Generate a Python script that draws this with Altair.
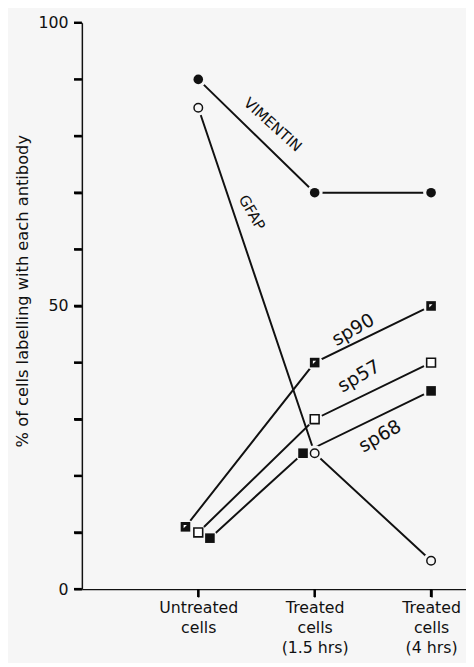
import altair as alt
import pandas as pd

# ---- data ----
categories = ["Untreated|cells", "Treated|cells|(1.5 hrs)", "Treated|cells|(4 hrs)"]
cat_pos = [1, 2, 3]
y_ticks = [0, 10, 20, 30, 40, 50, 60, 70, 80, 90, 100]

series_names = ["VIMENTIN", "GFAP", "sp90", "sp57", "sp68"]
vimentin = [90, 70, 70]
gfap = [85, 24, 5]
sp90 = [11, 40, 50]
sp57 = [10, 30, 40]
sp68 = [9, 24, 35]
# small horizontal displacement of the symbols in the original (category units)
jitter = {
    "VIMENTIN": [0.0, 0.0, 0.0],
    "GFAP": [0.0, 0.0, 0.0],
    "sp90": [-0.11, 0.0, 0.0],
    "sp57": [0.0, 0.0, 0.0],
    "sp68": [0.10, -0.10, 0.0],
}
values = {"VIMENTIN": vimentin, "GFAP": gfap, "sp90": sp90, "sp57": sp57, "sp68": sp68}

# annotation labels (data coordinates) and rotation
ann_text = ["VIMENTIN", "GFAP", "sp90", "sp57", "sp68"]
ann_x = [1.64, 1.46, 2.33, 2.38, 2.56]
ann_y = [82.0, 66.5, 45.8, 37.6, 27.0]
ann_angle = [42, 60, 330, 330, 330]
ann_size = [15, 15, 19, 19, 19]

rows = []
for s in series_names:
    for i, c in enumerate(cat_pos):
        rows.append({"series": s, "x": c + jitter[s][i], "y": values[s][i]})
df = pd.DataFrame(rows)
ann = pd.DataFrame({"t": ann_text, "x": ann_x, "y": ann_y, "a": ann_angle, "fs": ann_size})
xt = pd.DataFrame({"x": cat_pos})
yt = pd.DataFrame({"y": y_ticks})

BG = "#f6f6f6"
INK = "#111111"
FONT = "DejaVu Sans"
TICK = 8
H = 575

label_parts = [c.split("|") for c in categories]
label_expr = " : ".join(
    f"datum.value == {p} ? {parts!r}" for p, parts in zip(cat_pos, label_parts)
) + " : ''"

xscale = alt.Scale(domain=[0, 3.3], nice=False, zero=False)
yscale = alt.Scale(domain=[0, 100], nice=False)

xenc = alt.X(
    "x:Q",
    scale=xscale,
    axis=alt.Axis(
        values=cat_pos,
        labelExpr=label_expr,
        title=None,
        labelFont=FONT,
        labelFontSize=16,
        labelPadding=3,
        labelLineHeight=20,
        labelBaseline="top",
        labelFlush=False,
    ),
)
yenc = alt.Y(
    "y:Q",
    scale=yscale,
    axis=alt.Axis(
        values=y_ticks,
        labelExpr="datum.value % 50 == 0 ? datum.label : ''",
        title="% of cells labelling with each antibody",
        titleFont=FONT,
        titleFontSize=16.5,
        titleFontWeight="normal",
        titleAngle=270,
        titleX=-60,
        titleY=272,
        titleAlign="center",
        titleBaseline="middle",
        labelFont=FONT,
        labelFontSize=16,
        labelPadding=6,
    ),
)

base = alt.Chart(df)

lines = base.mark_line(color=INK, strokeWidth=2).encode(
    x=xenc, y=yenc, detail="series:N"
)

# outward tick marks, drawn from the tick arrays through the scales
xticks = alt.Chart(xt).mark_tick(color="#000000", thickness=2.5, size=TICK, orient="vertical", opacity=1).encode(
    x="x:Q", y=alt.value(H + TICK / 2)
)
yticks = alt.Chart(yt).mark_tick(color="#000000", thickness=2.5, size=TICK, orient="horizontal", opacity=1).encode(
    y="y:Q", x=alt.value(-TICK / 2)
)

halo = base.mark_point(filled=True, color=BG, opacity=1, size=260, shape="circle").encode(
    x="x:Q", y="y:Q"
)

def pts(names, **kw):
    return alt.Chart(df).transform_filter(
        alt.FieldOneOfPredicate(field="series", oneOf=names)
    ).mark_point(**kw).encode(x="x:Q", y="y:Q")

vim_pts = pts(["VIMENTIN"], shape="circle", filled=True, color=INK, size=95, opacity=1)
gfap_pts = pts(["GFAP"], shape="circle", filled=False, color=INK, strokeWidth=1.5, size=75, opacity=1)
sp57_pts = pts(["sp57"], shape="square", filled=True, fill="white", stroke=INK, strokeWidth=1.6, size=80, opacity=1)
sp68_pts = pts(["sp68"], shape="square", filled=True, color=INK, size=95, opacity=1)
sp90_pts = pts(["sp90"], shape="square", filled=True, color=INK, size=95, opacity=1)
sp90_inner = pts(["sp90"], shape="M -0.7 -0.7 L 0.55 -0.7 L -0.7 0.55 Z", filled=True, color="white", size=28, opacity=1)

labels = alt.Chart(ann).mark_text(font=FONT, color=INK, align="center", baseline="middle").encode(
    x="x:Q",
    y="y:Q",
    text="t:N",
    angle=alt.Angle("a:Q", scale=None),
    size=alt.Size("fs:Q", scale=None),
)

chart = (
    alt.layer(lines, xticks, yticks, halo, vim_pts, gfap_pts, sp57_pts, sp68_pts,
              sp90_pts, sp90_inner, labels)
    .properties(
        width=390,
        height=H,
        autosize=alt.AutoSizeParams(type="none"),
        padding={"left": 75, "top": 10, "right": 0, "bottom": 70},
        background=BG,
    )
    .configure_view(stroke=None)
    .configure_axis(
        grid=False,
        ticks=True,
        tickSize=TICK,
        tickWidth=1.5,
        tickColor=INK,
        domainColor=INK,
        domainWidth=1.5,
        labelColor=INK,
        titleColor=INK,
    )
)

chart.save("out.html", embed_options={"renderer": "svg", "actions": False})
